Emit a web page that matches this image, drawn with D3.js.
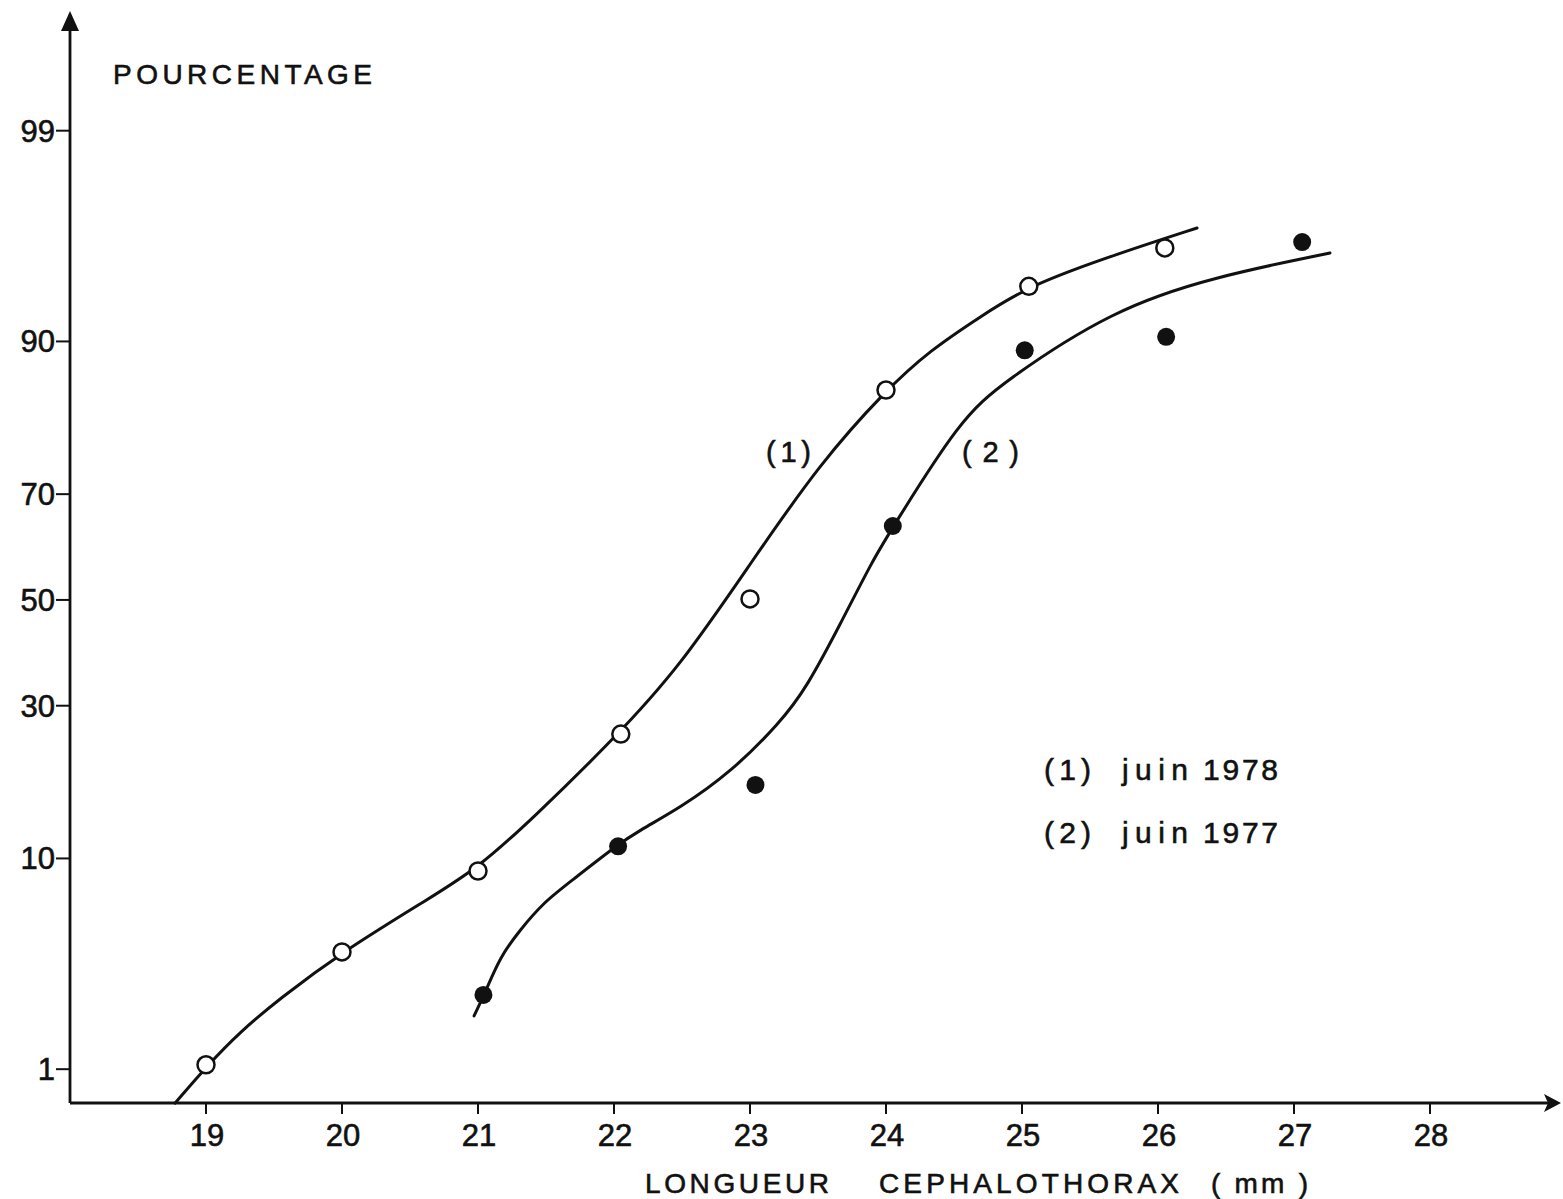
<!DOCTYPE html>
<html>
<head>
<meta charset="utf-8">
<script src="https://cdn.jsdelivr.net/npm/d3@7/dist/d3.min.js"></script>
<style>
  html, body { margin: 0; padding: 0; background: #fff; }
  svg { display: block; }
  text { font-family: "Liberation Sans", "DejaVu Sans", sans-serif; fill: #111; stroke: #111; stroke-width: 0.6; }
</style>
</head>
<body>
<svg id="chart" width="1563" height="1199"></svg>
<script>
// Carapace length classes (mm) and cumulative percentages
const lengthTicks = [19, 20, 21, 22, 23, 24, 25, 26, 27, 28];
const pctTicks = [1, 10, 30, 50, 70, 90, 99];

// Observed cumulative frequencies, June 1978 (open circles)
const juin1978Len = [19, 20, 21, 22.05, 23, 24, 25.05, 26.05];
const juin1978Pct = [1.06, 4.05, 8.95, 25.3, 50.2, 85.1, 94.0, 95.95];

// Observed cumulative frequencies, June 1977 (filled circles)
const juin1977Len = [21.04, 22.03, 23.04, 24.05, 25.02, 26.06, 27.06];
const juin1977Pct = [2.51, 11.1, 17.95, 64.3, 89.2, 90.4, 96.2];

// Hand-fitted curves
const fit1978Len = [18.772, 19.015, 19.25, 19.53, 20.0, 20.647, 21.0, 21.4, 21.993, 22.485, 23.022, 23.515, 24.0, 24.324, 24.691, 25.059, 25.721, 26.287];
const fit1978Pct = [0.63, 1.06, 1.61, 2.37, 4.05, 6.98, 9.2, 13.9, 24.4, 37.0, 57.9, 75.1, 85.1, 89.2, 91.97, 94.08, 95.73, 96.74];
const fit1977Len = [20.971, 21.05, 21.162, 21.309, 21.478, 21.676, 22.022, 22.191, 22.485, 22.853, 23.221, 23.419, 23.662, 23.904, 24.051, 24.544, 24.86, 25.669, 26.404, 27.265];
const fit1977Pct = [1.96, 2.55, 3.84, 5.09, 6.65, 8.1, 11.2, 12.7, 15.12, 19.55, 27.1, 33.3, 45.1, 57.9, 64.1, 81.4, 86.0, 92.5, 94.53, 95.73];

// Inverse of the standard normal CDF (Acklam's rational approximation)
function probit(p) {
  const a = [-3.969683028665376e+01, 2.209460984245205e+02, -2.759285104469687e+02, 1.383577518672690e+02, -3.066479806614716e+01, 2.506628277459239e+00];
  const b = [-5.447609879822406e+01, 1.615858368580409e+02, -1.556989798598866e+02, 6.680131188771972e+01, -1.328068155288572e+01];
  const c = [-7.784894002430293e-03, -3.223964580411365e-01, -2.400758277161838e+00, -2.549732539343734e+00, 4.374664141464968e+00, 2.938163982698783e+00];
  const d = [7.784695709041462e-03, 3.224671290700398e-01, 2.445134137142996e+00, 3.754408661907416e+00];
  const pl = 0.02425, ph = 1 - pl;
  let q, r;
  if (p < pl) {
    q = Math.sqrt(-2 * Math.log(p));
    return (((((c[0]*q+c[1])*q+c[2])*q+c[3])*q+c[4])*q+c[5]) / ((((d[0]*q+d[1])*q+d[2])*q+d[3])*q+1);
  } else if (p <= ph) {
    q = p - 0.5; r = q * q;
    return (((((a[0]*r+a[1])*r+a[2])*r+a[3])*r+a[4])*r+a[5])*q / (((((b[0]*r+b[1])*r+b[2])*r+b[3])*r+b[4])*r+1);
  } else {
    q = Math.sqrt(-2 * Math.log(1 - p));
    return -(((((c[0]*q+c[1])*q+c[2])*q+c[3])*q+c[4])*q+c[5]) / ((((d[0]*q+d[1])*q+d[2])*q+d[3])*q+1);
  }
}

const svg = d3.select("#chart");
const x0 = 70, yBase = 1103;

// Horizontal: linear length scale; vertical: normal-probability (probit) scale
const x = d3.scaleLinear().domain([18, 28.9]).range([x0, x0 + 10.9 * 136]);
const zScale = d3.scaleLinear().domain([-2.494, 2.885]).range([yBase, 18]);
const y = pct => zScale(probit(pct / 100));

const ink = "#111";

// Axes lines
svg.append("line").attr("x1", x0).attr("y1", yBase).attr("x2", 1550).attr("y2", yBase)
  .attr("stroke", ink).attr("stroke-width", 3);
svg.append("line").attr("x1", x0).attr("y1", yBase).attr("x2", x0).attr("y2", 24)
  .attr("stroke", ink).attr("stroke-width", 2.8);

// Arrow heads
svg.append("path").attr("d", "M70,11 L61,31 L79,31 Z").attr("fill", ink);
svg.append("path").attr("d", "M1561,1103 L1544,1094 L1548,1103 L1544,1112 Z").attr("fill", ink);

// X ticks and labels
const xg = svg.append("g");
xg.selectAll("line").data(lengthTicks).join("line")
  .attr("x1", d => x(d)).attr("x2", d => x(d))
  .attr("y1", yBase).attr("y2", yBase + 11)
  .attr("stroke", ink).attr("stroke-width", 2);
xg.selectAll("text").data(lengthTicks).join("text")
  .attr("x", d => x(d) + 1).attr("y", 1146)
  .attr("text-anchor", "middle").attr("font-size", 31)
  .text(d => d);

// Y ticks and labels
const yg = svg.append("g");
yg.selectAll("line").data(pctTicks).join("line")
  .attr("x1", 56).attr("x2", x0)
  .attr("y1", d => y(d)).attr("y2", d => y(d))
  .attr("stroke", ink).attr("stroke-width", 2);
yg.selectAll("text").data(pctTicks).join("text")
  .attr("x", 55).attr("y", d => y(d) + 11)
  .attr("text-anchor", "end").attr("font-size", 31)
  .text(d => d);

// Axis titles
svg.append("text").attr("x", 113).attr("y", 84).attr("font-size", 28)
  .attr("textLength", 259).attr("lengthAdjust", "spacing").text("POURCENTAGE");
svg.append("text").attr("x", 645).attr("y", 1193).attr("font-size", 28)
  .attr("textLength", 184).attr("lengthAdjust", "spacing").text("LONGUEUR");
svg.append("text").attr("x", 879).attr("y", 1193).attr("font-size", 28)
  .attr("textLength", 300).attr("lengthAdjust", "spacing").text("CEPHALOTHORAX");
svg.append("text").attr("x", 1211).attr("y", 1193).attr("font-size", 28)
  .attr("textLength", 97).attr("lengthAdjust", "spacing").attr("xml:space", "preserve").text("( mm )");

// Fitted curves
const line = d3.line().x(d => x(d[0])).y(d => y(d[1])).curve(d3.curveBasis);
const fits = [
  d3.zip(fit1978Len, fit1978Pct),
  d3.zip(fit1977Len, fit1977Pct)
];
svg.append("g").selectAll("path").data(fits).join("path")
  .attr("d", line).attr("fill", "none").attr("stroke", ink)
  .attr("stroke-width", 3).attr("stroke-linecap", "round");

// Observed points
svg.append("g").selectAll("circle").data(d3.zip(juin1978Len, juin1978Pct)).join("circle")
  .attr("cx", d => x(d[0])).attr("cy", d => y(d[1])).attr("r", 8.5)
  .attr("fill", "#fff").attr("stroke", ink).attr("stroke-width", 2.5);
svg.append("g").selectAll("circle").data(d3.zip(juin1977Len, juin1977Pct)).join("circle")
  .attr("cx", d => x(d[0])).attr("cy", d => y(d[1])).attr("r", 9)
  .attr("fill", ink);

// Curve labels
svg.append("text").attr("x", 766).attr("y", 462).attr("font-size", 29)
  .attr("textLength", 45).attr("lengthAdjust", "spacing").text("(1)");
svg.append("text").attr("x", 962).attr("y", 462).attr("font-size", 29)
  .attr("textLength", 57).attr("lengthAdjust", "spacing").text("(2)");

// Legend
const legend = [
  { tag: "(1)", month: "juin", year: "1978", y: 780 },
  { tag: "(2)", month: "juin", year: "1977", y: 843 }
];
const lg = svg.append("g").selectAll("g").data(legend).join("g");
lg.append("text").attr("x", 1044).attr("y", d => d.y).attr("font-size", 30)
  .attr("textLength", 47).attr("lengthAdjust", "spacing").text(d => d.tag);
lg.append("text").attr("x", 1122).attr("y", d => d.y).attr("font-size", 30)
  .attr("textLength", 66).attr("lengthAdjust", "spacing").text(d => d.month);
lg.append("text").attr("x", 1203).attr("y", d => d.y).attr("font-size", 30)
  .attr("textLength", 75).attr("lengthAdjust", "spacing").text(d => d.year);
</script>
</body>
</html>
